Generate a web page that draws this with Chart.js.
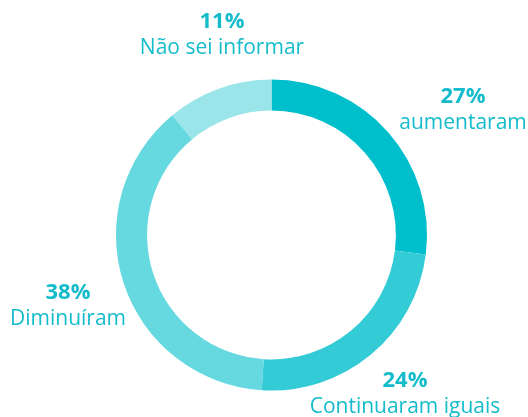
<!DOCTYPE html>
<html>
<head>
<meta charset="utf-8">
<script src="https://cdn.jsdelivr.net/npm/chart.js@4.4.0/dist/chart.umd.min.js"></script>
<style>
  html, body { margin: 0; padding: 0; background: #fff; }
  #wrap { width: 528px; height: 417px; position: relative; }
</style>
</head>
<body>
<div id="wrap"><canvas id="chart" width="528" height="417"></canvas></div>
<script>
// answers, clockwise from 12 o'clock
const categories = ['aumentaram', 'Continuaram iguais', 'Diminuíram', 'Não sei informar'];
const shares     = [27, 24, 38, 11];
const pctLabels  = ['27%', '24%', '38%', '11%'];

const sliceColors = ['#00bfcc', '#33cbd6', '#66d9e0', '#99e5ea'];
const textColor   = '#14bccb';
const FONT = "'Open Sans', 'Noto Sans', sans-serif";

// label anchor (centre of the two text lines) per slice, in canvas px
const labelPos = [
  { x: 463, y: 110 },
  { x: 405, y: 394 },
  { x: 68,  y: 306 },
  { x: 222, y: 35 },
];

const labelPlugin = {
  id: 'sliceLabels',
  afterDraw(chart) {
    const ctx = chart.ctx;
    ctx.save();
    ctx.fillStyle = textColor;
    ctx.textAlign = 'center';
    ctx.textBaseline = 'middle';
    categories.forEach((name, i) => {
      const p = labelPos[i];
      ctx.font = `bold 22px ${FONT}`;
      ctx.fillText(pctLabels[i], p.x, p.y - 13);
      ctx.font = `21px ${FONT}`;
      ctx.fillText(name, p.x, p.y + 13);
    });
    ctx.restore();
  }
};

new Chart(document.getElementById('chart'), {
  type: 'doughnut',
  data: {
    labels: categories,
    datasets: [{
      data: shares,
      backgroundColor: sliceColors,
      borderWidth: 0,
    }]
  },
  options: {
    responsive: false,
    animation: false,
    cutout: '80%',
    rotation: 0,
    layout: { padding: { left: 116, right: 101, top: 79, bottom: 26 } },
    plugins: {
      legend: { display: false },
      tooltip: { enabled: false },
    }
  },
  plugins: [labelPlugin]
});
</script>
</body>
</html>
